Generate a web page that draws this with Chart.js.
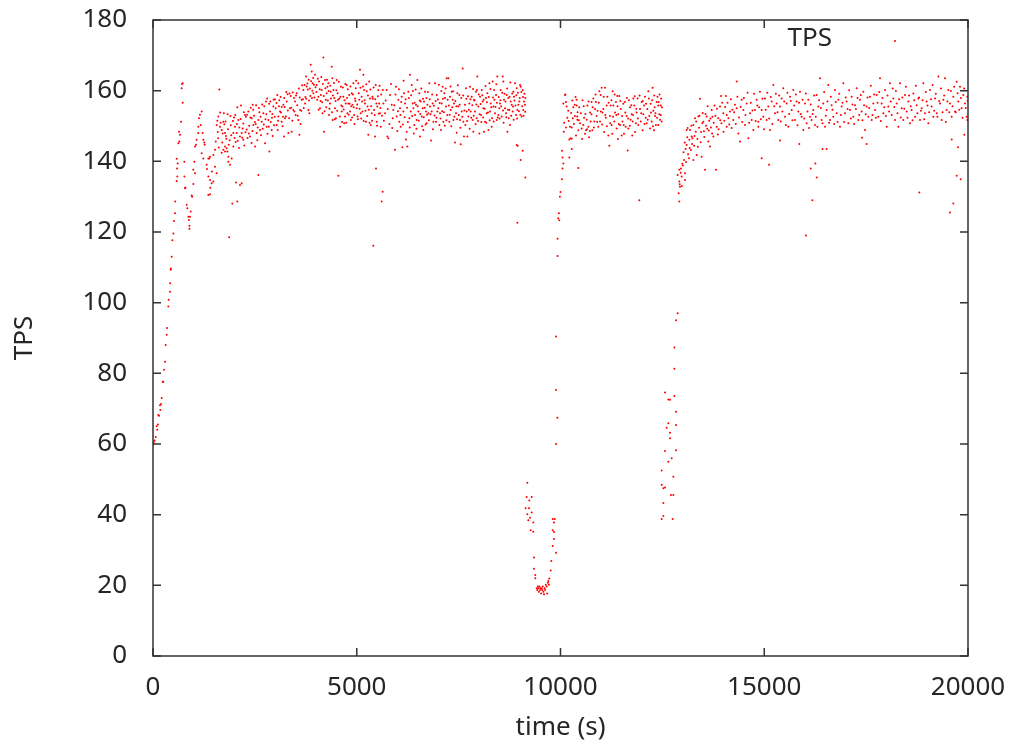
<!DOCTYPE html>
<html>
<head>
<meta charset="utf-8">
<script src="https://cdn.jsdelivr.net/npm/chart.js@4.4.1/dist/chart.umd.min.js"></script>
<style>
  html, body { margin: 0; padding: 0; background: #fff; }
  canvas { display: block; }
</style>
</head>
<body>
<canvas id="tpsChart" width="1016" height="747"></canvas>
<script>
// assi
const xTicks = [0, 5000, 10000, 15000, 20000];
const yTicks = [0, 20, 40, 60, 80, 100, 120, 140, 160, 180];
const seriesLabel = 'TPS';

// punti [tempo (s), TPS], fase per fase
const rampUp = [
  [0,59.7],[20,60.5],[40,61],[66,62],[90,65],[105,64],[120,65.5],[130,68.2],[147,68],[172,71],[180,69.6],[196,71.3],
  [213,73],[238,77.6],[253,77.6],[270,81],[295,83.3],[311,88],[336,90.9],[345,92.8],[376,98.9],[385,100.8],[417,103.1],
  [420,105.5],[433,109.3],[440,109.7],[458,113],[474,117.7],[499,119.6],[515,123.1],[540,125.3],[545,128.6],[581,134.4],
  [597,135.7],[581,140.7],[605,139.4],[590,138],[622,145.1],[646,145.6],[638,148.4],[663,147.5],[687,151.2],[704,160.7],
  [712,161.9],[729,162.1],[729,156.6]
];
const firstDip = [
  [768,139.9],[770,135.7],[785,132.4],[795,132.6],[827,127.7],[843,126.7],[868,124.3],[880,123.4],[893,121.8],[893,120.9],
  [908,124.3],[925,125.8],[949,130.3],[960,130],[990,133.6],[990,137.6],[1031,136.6],[1014,139.9],[1031,144.2],[1055,144.7],
  [1072,146.1],[1112,148],[1112,149.8],[1129,152.2],[1153,153.2],[1195,154.1],[1170,150.3],[1219,148],[1235,146.1],
  [1259,145.3],[1268,144.7],[1195,142.3],[1235,140.8],[1317,139],[1325,137.8],[1358,135.7],[1399,134.7],[1358,130.5],
  [1399,130.7],[1405,132.5],[1440,133.8],[1481,134.3],[1445,137.1],[1399,141.3],[1358,140.8],[1380,140.8],[1481,141.8],
  [1522,143.3],[1522,138.5],[1563,136.6]
];
const climbBand = [
  [1563,150.3],[1579,151.5],[1603,152.7],[1628,160.3],[1644,149.8],[1686,148.9],[1726,151.2],[1767,148],[1767,144.2],
  [1809,143.7],[1826,142.8],[1849,141.3],[1849,139.9],[1890,139],[1767,142.8],[1726,143.3],[1686,142.4],[1870,118.5],
  [1931,140.8],[1947,128.1],[1971,144.2],[1971,148],[2012,149.8],[2037,134],[2069,128.6],[2054,148],[2069,155.3],
  [2094,151.7],[2135,133.3],[2176,133.8],[2135,147],[2176,148],[2218,146.1],[2218,150.7],[2258,153.1],[2299,149],
  [2340,154.1],[2381,147],[2422,152.2],[2447,156],[2463,150.3],[2503,144.2],[2545,148],[2586,136.1],[2586,151.7],
  [2626,148.9],[2667,151.2],[2708,153.6],[2749,145.1],[2773,156.9],[2790,149.8],[2831,151.7],[2856,142.8],[2871,154.1],
  [2913,148.9],[2937,147.2],[2953,155.5],[2994,157.6],[3035,150.3],[3051,158.8],[3076,152.7],[3117,154.1],[3158,151.2],
  [3199,156],[3215,147],[3240,152.2],[3281,156.9],[3321,148],[3362,155],[3404,148.4],[3444,154.5],[3485,156.9],
  [3526,159.3],[3567,151.7],[3592,147.5],[3608,154.5],[3649,157.4],[3690,160.2],[3731,156.4],[3755,164],[3772,161.2],
  [3813,154.5],[3837,153.6],[3870,167.3],[3895,165.4],[3919,162.1],[3936,159.3],
  [1600,146.5],[1650,153.8],[1700,145.3],[1750,150.5],[1790,147.2],[1830,153.3],[1880,146],[1910,150.2],[1990,152.4],
  [2030,145.5],[2110,143.8],[2150,152],[2200,149.3],[2240,144.5],[2280,152.6],[2320,146.6],[2360,150.1],[2400,155.2],
  [2440,148.6],[2480,152.9],[2520,150.6],[2560,146],[2600,155.1],[2640,152.6],[2690,149.2],[2730,155.6],[2760,151.9],
  [2810,147.8],[2850,156.3],[2890,151.1],[2930,153.4],[2970,150.2],[3010,155],[3060,148.9],[3100,157.3],[3140,153.8],
  [3180,149.9],[3220,157.9],[3260,152.7],[3300,159],[3340,152.2],[3380,158.5],[3420,151.5],[3460,157.9],[3500,153.1],
  [3540,155.9],[3580,160.6],[3620,150.6],[3660,161.5],[3700,155.1],[3740,158.2],[3790,162],[3830,157.2],[3850,160.6],
  [3900,157.9],[3950,161.7],
  [1540,145.6],[1590,148.3],[1615,143.9],[1660,150.9],[1710,147.9],[1740,153.6],[1780,151.3],[1800,146.4],[1840,149.1],
  [1860,144.7],[1900,152.8],[1920,147.4],[1960,151.4],[2000,146.6],[2020,153.1],[2060,150.6],[2080,145.8],[2120,149.6],
  [2160,155.8],[2190,146.7],[2230,153.9],[2270,148.2],[2310,153.2],[2350,147.9],[2390,152.4],[2420,145.2],[2460,154.6],
  [2500,151.1],[2530,155.9],[2570,149.6],[2610,153.9],[2650,147.4],[2680,156.1],[2720,150.4],[2780,153.3],[2800,157.8],
  [2840,149.8],[2880,156.9],[2920,152.3],[2960,157.4],[2990,152.6],[3030,156.5],[3070,151.5],[3090,155.6],[3130,158.2],
  [3160,155.4],[3190,152.6],[3230,155.4],[3270,159.6],[3310,154.4],[3350,159.2],[3390,155.2],[3430,159.5],[3470,154.1],
  [3510,158.6],[3550,152.9],[3600,158.1],[3640,154.3],[3680,157.6],[3720,161.6],[3760,157.7],[3800,160.3],[3820,163.1],
  [3860,158.5],[3880,162.7],[3910,160],[3930,163.6],[3960,158.1],[3990,161]
];
const plateauA = [
  [3976,164.5],[4017,161.6],[4058,158.3],[4099,155],[4140,160.2],[4181,169.4],[4197,148.4],[4221,163],[4263,159.3],
  [4303,162.1],[4344,156.4],[4386,166.8],[4410,151.7],[4426,160.2],[4467,155],[4508,163],[4549,135.9],[4574,157.8],
  [4590,149.8],[4631,154.1],[4671,158.3],[4712,152.7],[4753,161.6],[4794,156.4],[4835,154.1],[4876,159.3],[4917,162.1],
  [4958,157.8],[4999,155],[5039,162.1],[5080,165.9],[5096,153.6],[5121,158.3],[5162,164.5],[5203,156.4],[5244,159.8],
  [5284,147.5],[5326,157.8],[5367,153.6],[5406,116.1],[5448,147],[5472,138],[5505,155.5],[5530,160.2],[5571,153.6],
  [5612,128.6],[5636,131.4],
  [4030,157.4],[4075,162.6],[4120,158.8],[4160,153.6],[4240,157.4],[4280,161.1],[4320,153.1],[4360,159.7],[4400,163.5],
  [4450,157.9],[4490,152.2],[4530,159.3],[4610,161.1],[4650,155.5],[4690,150.8],[4730,156.4],[4770,153.6],[4815,158.8],
  [4855,151.7],[4895,156],[4935,153.1],[4975,160.7],[5020,152.7],[5060,157.4],[5140,154.1],[5180,160.2],[5225,151.2],
  [5265,155.5],[5305,162.6],[5345,150.3],[5385,158.3],[5425,154.5],[5465,161.6],[5490,151.2],[5550,156.4],[5590,149.8],
  [4010,159.6],[4045,163.4],[4065,154.6],[4090,160.4],[4110,157.1],[4130,163.9],[4150,156.7],[4170,161.9],[4190,158.5],
  [4210,154.2],[4230,160.7],[4250,155.3],[4270,163.1],[4290,157.2],[4310,159.9],[4330,154.9],[4350,161.4],[4370,157.8],
  [4395,153.9],[4415,158.6],[4440,162.2],[4460,151.9],[4480,157.1],[4500,160.1],[4520,154.3],[4540,157.4],[4560,162.5],
  [4585,152.7],[4600,158.3],[4620,155.8],[4640,151.1],[4660,160.9],[4680,154.7],[4700,157.3],[4720,161.9],[4740,150.9],
  [4760,157.9],[4780,160.4],[4800,153.2],[4825,156.3],[4845,161.2],[4865,155.6],[4885,152.4],[4905,158.9],[4925,155.3],
  [4945,150.6],[4965,157.1],[4985,162.8],[5010,156.1],[5030,151.9],[5050,159.3],[5070,154.9],[5090,160.8],[5110,152.1],
  [5130,156.9],[5150,161.2],[5170,151.4],[5190,157.3],[5215,154.3],[5235,161.8],[5255,152.8],[5275,158.6],[5295,154.6],
  [5315,150.9],[5335,160.3],[5355,155.6],[5375,151.5],[5395,157.7],[5415,160.9],[5440,153.1],[5455,157.6],[5480,156.4],
  [5500,150.1],[5520,158.4],[5540,153.5],[5560,161.4],[5580,155.1],[5600,158.9],[5620,152.9]
];
const plateauB = [
  [5636,160.2],[5653,156.4],[5694,153.6],[5735,160.2],[5751,147],[5776,146.5],[5816,158.8],[5857,156],[5882,152.2],
  [5898,154.5],[5939,143.3],[5964,161.1],[5980,152.7],[6021,157.4],[6045,151.2],[6062,155],[6078,149.8],[6103,158.3],
  [6119,144],[6144,154.1],[6160,159.3],[6185,156.4],[6209,146.2],[6225,148.4],[6242,144.2],[6266,159.7],[6291,152.2],
  [6307,164.5],[6324,154.1],[6348,161.6],[6373,156.4],[6389,155],[6414,150.3],[6430,153.1],[6454,156],[6471,151.7],
  [6487,163],[6512,154.1],[6536,159.3],[6553,147],[6569,156.9],[6594,152.7],[6618,155],[6634,148.9],[6651,156.9],
  [6675,159.7],[6700,154.1],[6716,150.8],[6733,156],[6757,153.6],[6782,162.1],[6798,155.5],[6823,145.9],[6839,154.1],
  [6863,156.4],[6880,151.2],[6921,162.1],[6945,151.2],[6962,158.8],[6978,154.1],[7003,155],[7027,150.3],[7043,153.6],
  [7068,148.9],[7084,156.4],[7109,161.1],[7125,151.2],[7150,159.3],[7166,157.9],[7191,155.5],[7207,163.5],[7223,153.1],
  [7248,163.5],[7272,151.2],[7289,158.3],[7305,154.5],[7330,159.7],[7354,157.4],[7371,151.7],[7387,156.4],[7412,145.3],
  [7436,153.6],[7452,148.1],[7469,159.3],[7493,155.5],[7518,158.8],[7534,151.7],[7551,144.8],[7575,154.1],[7600,166.3],
  [7616,151.2],[7632,147],[7657,156],[7681,160.7],[7698,154.1],[7714,147],[7739,152.7],[7763,156.4],[7780,161.1],
  [7796,154.1],[7821,158.3],[7845,151.7],[7861,148.4],[7878,157.4],[7902,154.1],[7927,159.7],[7943,152.2],[7960,164],
  [7984,155.5],[8009,147.9],[8025,158.3],[8050,153.1],[8066,160.2],[8090,156.9],[8107,155],[8123,148.4],[8148,151.2],
  [8172,157.9],[8189,153.6],[8205,159.3],[8230,148.9],[8254,162.1],[8270,154.1],[8287,156.4],[8311,149.8],[8336,162.6],
  [8352,155.5],[8369,160.2],[8393,153.6],[8418,158.8],[8434,151.7],[8450,164],[8475,153.1],[8499,155],[8516,156.4],
  [8532,160.2],[8557,152.7],[8581,164],[8598,162.6],[8614,157.4],[8639,155],[8663,153.6],[8679,158.8],[8696,148.4],
  [8720,157.9],[8745,154.5],[8761,150.3],[8778,156.9],[8802,156],[8827,154.1],[8843,159.7],[8859,158.3],[8884,162.1],
  [8908,153.1],[8925,160.7],[8941,154.5],[8966,156],[8990,156.9],[9007,161.6],[9023,161.1],[9048,152.7],[9072,160.2],
  [9088,154.5],[9105,156.9],[9129,156],[9138,157.9],
  [5665,151.5],[5710,157.2],[5760,154.8],[5800,150.6],[5840,161.9],[5870,149.4],[5920,155.9],[5950,158.9],[5995,148.6],
  [6010,154.2],[6035,160.4],[6070,153.1],[6090,156.8],[6130,150.4],[6150,162.8],[6175,152.5],[6200,157.6],[6235,155.2],
  [6255,151.1],[6280,157.9],[6300,149.6],[6335,158.7],[6360,152.8],[6380,159.9],[6400,147.9],[6420,156.6],[6445,160.3],
  [6465,149.2],[6495,155.6],[6520,151.5],[6545,157.2],[6560,153.4],[6585,160.6],[6605,149.9],[6625,157.7],[6645,152.5],
  [6665,155.2],[6690,150.4],[6710,157.9],[6725,153.2],[6745,159.6],[6770,151.6],[6790,157.6],[6810,153.3],[6850,158.9],
  [6870,149.1],[6895,155.7],[6910,153],[6935,157.1],[6955,152.3],[6990,157.5],[7015,161.7],[7035,156.5],[7055,152.1],
  [7075,159.9],[7095,154.2],[7115,157.7],[7140,153.9],[7160,150.1],[7180,160.6],[7200,151.6],[7230,157.4],[7260,155.8],
  [7280,153.2],[7300,161.2],[7320,149.9],[7345,155.3],[7365,159.8],[7395,152.6],[7420,157.1],[7445,155.6],[7460,151.9],
  [7480,161.5],[7505,153.1],[7525,156],[7545,149.5],[7565,157.9],[7590,152.6],[7610,158.6],[7640,154.4],[7665,150.3],
  [7690,157.7],[7705,151.4],[7730,158.4],[7750,154.6],[7770,149.2],[7790,157.6],[7810,152.3],[7835,155.9],[7855,160.5],
  [7870,152.9],[7890,157.2],[7915,150.6],[7935,156.1],[7950,160.2],[7975,151.4],[7995,158.9],[8015,153.3],[8040,156.2],
  [8058,151.1],[8080,158.7],[8100,152.4],[8115,157.4],[8140,154.9],[8160,161.3],[8180,150.9],[8195,156.7],[8220,153.8],
  [8240,158.2],[8262,151.6],[8280,160.5],[8300,155.3],[8320,152.2],[8345,158.1],[8360,151.3],[8380,157.4],[8405,155.4],
  [8425,161.8],[8440,156.6],[8460,152.4],[8485,158.2],[8505,152.1],[8525,157.3],[8545,155.6],[8570,159.4],[8590,154.4],
  [8605,150.9],[8625,159.1],[8650,156.9],[8670,152.5],[8690,160.6],[8710,154.6],[8730,152.2],[8750,158.3],[8770,162.3],
  [8790,152.9],[8815,159.2],[8835,155.5],[8850,151.8],[8870,157.2],[8895,155.8],[8915,158.7],[8935,152.1],[8955,159.4],
  [8980,154.2],[9000,157.9],[9015,153.2],[9040,159.6],[9060,155.6],[9080,158.2],[9095,152.9],[9115,159.1],[9135,154]
];
const fallAndDip = [
  [8925,144.6],[8950,144.4],[9023,140.4],[9072,143],[9138,135.4],[8941,122.6],
  [9186,49],[9170,45],[9235,44],[9293,45],[9145,41.8],[9227,41.8],[9186,40.1],[9293,40.6],[9252,39.1],[9210,38.4],
  [9333,37.8],[9268,35.6],[9333,35.2],[9350,27.9],[9350,24.7],[9382,22.9],[9382,22],
  [9416,19.2],[9430,18.7],[9445,19.7],[9457,19.2],[9470,18.2],[9485,19.7],[9498,18.7],[9510,19.2],[9525,17.7],
  [9539,19.2],[9550,18.7],[9565,19.7],[9580,18.2],[9595,17.5],[9610,19.2],[9621,18.7],[9640,20.2],[9661,19.7],
  [9675,17.7],[9690,20.7],[9702,21.2],[9715,20.2],
  [9726,21.9],[9760,24.2],[9775,26.9],[9890,29.2],[9808,31.1],[9841,33.1],[9841,35.1],[9808,35.6],[9841,37.8],
  [9808,38.8],[9857,38.8]
];
const recovery = [
  [9890,60],[9923,67.4],[9890,75.3],[9890,90.4],
  [9928,113.2],[9928,118.1],[9945,123.9],[9970,123.3],[9960,125.3],[9985,130],[10000,131.3],[10037,134.9],[10050,138],
  [10050,141.1],[10037,143],[10070,139.4],[10120,158.9],[10070,156.4],[10150,155.5],[10090,150.9],[10080,148.4],
  [10135,149.6],[10216,146.2],[10250,146.5],[10275,149.6],[10275,143.5],[10216,141.1],[10436,138.1],[10395,157.4],
  [10410,152.7],[10350,156],[10300,152.2]
];
const midBand = [
  [10110,158.8],[10135,156.8],[10167,152.3],[10233,149.8],[10274,146.4],[10315,155.3],[10355,152.8],[10396,155.8],
  [10413,151.8],[10437,148.8],[10478,150.8],[10519,149.3],[10560,150.3],[10601,147.8],[10625,148.8],[10642,151.8],
  [10683,149.8],[10724,153.8],[10764,156.8],[10805,157.8],[10846,154.8],[10887,152.8],[10928,149.8],[10953,159.8],
  [10985,158.8],[11010,160.8],[11051,154.8],[11092,160.8],[11133,155.8],[11173,147.3],[11198,144.4],[11214,152.8],
  [11255,150.3],[11280,159.8],[11296,155.8],[11337,153.8],[11378,149.3],[11394,158.5],[11419,153.3],[11443,158.5],
  [11460,150.3],[11501,147.3],[11542,156.3],[11558,147.8],[11582,156.8],[11623,152.8],[11648,143.1],[11664,149.3],
  [11705,155.3],[11746,153.3],[11771,151.3],[11787,157.8],[11828,148.3],[11869,153.8],[11910,150.3],[11934,129],
  [11951,154.8],[11991,156.8],[12016,148.8],[12032,153.3],[12073,158.3],[12114,150.8],[12155,159.8],[12179,152.8],
  [12212,156.3],[12237,151.3],[12261,160.8],[12278,154.3],[12294,148.8],[12319,152.8],[12360,156.8],[12400,150.3],
  [12425,153.3],[12441,151.8],[12458,155.8],[12482,151.3],
  [10190,154.3],[10290,157.2],[10380,147.3],[10460,155.3],[10540,157.3],[10580,152.3],[10660,155.8],[10700,146.8],
  [10740,151.3],[10780,148.8],[10830,151.3],[10870,156.8],[10910,154.3],[10970,151.3],[11030,153.8],[11070,148.3],
  [11110,152.3],[11150,158.3],[11230,155.8],[11270,147.8],[11320,151.3],[11360,156.8],[11410,146.3],[11480,154.8],
  [11520,151.3],[11600,149.8],[11680,157.3],[11720,151.8],[11760,147.3],[11810,155.8],[11850,150.8],[11890,157.8],
  [11970,151.3],[12050,155.8],[12090,152.3],[12130,154.8],[12200,149.3],[12250,157.3],[12310,155.3],[12340,150.3],
  [12380,158.3],[12410,156.8],[12470,157.8],
  [10200,151.4],[10260,153.7],[10330,150.6],[10370,158.2],[10420,153.9],[10450,151.6],[10500,153.6],[10530,146.3],
  [10570,155.6],[10610,153.4],[10650,149.1],[10690,156.9],[10720,148.6],[10760,153.3],[10790,155.3],[10820,149.6],
  [10860,158.9],[10900,151.1],[10940,156.6],[10990,154.1],[11020,150.4],[11060,158.3],[11100,153.1],[11140,149.9],
  [11180,156.6],[11220,150.8],[11250,157.3],[11290,152.6],[11330,158.9],[11370,153.1],[11400,155.6],[11430,150.6],
  [11470,157.1],[11510,152.8],[11550,150.3],[11590,153.8],[11630,157.9],[11660,152.1],[11700,150.1],[11740,155.9],
  [11780,153.1],[11820,158.4],[11860,154.9],[11900,152.1],[11940,158.6],[11980,153.6],[12020,157.1],[12060,150.6],
  [12100,156.3],[12140,151.8],[12170,157.8],[12220,153.8],[12270,149.9],[12300,158.6],[12330,153.6],[12370,152.3],
  [12400,155.8],[12430,158.9],[12460,153.1],[12490,155.3]
];
const secondDip = [
  [12876,97],[12835,95],[12793,87.3],[12793,81.3],[12565,74.6],[12646,72.6],[12687,72.5],[12793,73.6],[12835,69.1],
  [12835,65.4],[12646,65.9],[12605,64.6],[12687,63.2],[12687,61.6],[12565,58],[12835,58.2],[12728,56],[12646,55],
  [12483,52.5],[12769,50.7],[12483,48.5],[12524,47.5],[12565,47.7],[12711,45.6],[12769,45.6],[12524,43.3],[12524,39.6],
  [12483,38.8],[12752,38.8]
];
const secondRise = [
  [12916,128.6],[12933,132.8],[12916,134.3],[12974,135.7],[12875,136.1],[13055,134.7],[12916,137.6],[12957,138],
  [13055,136.6],[12990,139.3],[13031,140.4],[13153,140.9],[13260,140.4],[13342,141.8],[13464,141.3],[13546,137.6],
  [13816,137.6],[13096,144.6],[13162,146.1],[13219,147],[13096,148.9],[13178,148.9],[13260,150.3],[13301,152.2],
  [13383,152.7],[13424,157.7],[13505,151.2],[13587,152.7],[13628,145.6],[13669,144.2],[13710,154.5],[13751,147],
  [13833,149.8],[13873,152.2],[13914,155.5],[13939,158.5],[13996,153.6],[14061,158.5],[14078,149.8],[14119,152.2],
  [14160,154.1],[14241,151.7],[14282,156],[14323,162.6],[14323,155],[14364,147.9],[14405,145.6],[14446,157.4],
  [14487,154.5],[14528,150.3],[14569,156.4],[14610,146.5],[14651,153.6],[14692,151.7],[14732,148.9],[14773,154.5],
  [14814,157.4],[14855,151.2],
  [12900,131],[12925,133.5],[12950,136.8],[12980,133],[13000,138.8],[13020,142.6],[13070,143.5],[13110,146.8],
  [13130,142],[13200,143.2],[13240,146.5],[13280,144.4],[13320,148.4],[13360,146.3],[13400,149.5],[13440,145.4],
  [13480,150.8],[13520,148.5],[13560,153.4],[13600,149.2],[13650,151.5],[13690,149.6],[13730,152.6],[13780,155.8],
  [13860,147.6],[13950,150.8],[14020,151.5],[14100,156.6],[14200,149.4],[14260,153.9],
  [13050,145.3],[13080,139.8],[13120,149.4],[13170,143.8],[13210,150.1],[13230,144.9],[13290,147.2],[13330,151.3],
  [13370,144.1],[13410,152.9],[13450,148.3],[13490,153.7],[13530,146.9],[13570,150.1],[13610,155.6],[13640,148.7],
  [13680,152.1],[13720,147.9],[13760,150.9],[13800,152.9],[13840,154.9],[13880,149.1],[13920,151.6],[13970,156.6],
  [14000,148.4],[14040,155.4],[14080,153.1],[14140,150.4],[14180,157.6],[14220,154.6],[14300,150.6],[14340,158.3],
  [14380,152.4],[14420,155.4],[14460,151.1],[14500,157.9],[14540,153.1],[14590,159.4],[14630,150.9],[14670,156.6],
  [14710,154.4],[14750,159.1],[14790,151.4],[14830,155.8]
];
const finalBand = [
  [14855,149.8],[14895,159.7],[14936,154.5],[14977,152.6],[15018,157.8],[15059,151.7],[15100,155.5],[15141,148.9],
  [15182,156.9],[15223,161.6],[15264,153.6],[15304,156.4],[15345,151.7],[15386,155.5],[15427,157.8],[15468,160.7],
  [15509,152.6],[15550,156.4],[15591,149.8],[15632,158.3],[15673,154.5],[15713,160.2],[15754,151.7],[15795,156.9],
  [15836,154.1],[15877,159.7],[15918,152.6],[15959,148.9],[16000,156.4],[16041,150.8],[16082,157.4],[16122,152.6],
  [16163,151.7],[16204,154.5],[16245,150.3],[16286,158.8],[16327,155.5],[16368,163.5],[16409,151.7],[16450,156.4],
  [16491,149.8],[16531,154.5],[16572,161.6],[16613,151.7],[16654,155.9],[16695,152.6],[16736,160.2],[16777,153.6],
  [16818,157.4],[16859,149.8],[16900,155.5],[16940,162.1],[16981,153.6],[17022,156.9],[17063,150.8],[17104,154.5],
  [17145,158.3],[17186,152.6],[17227,155.9],[17268,160.7],[17309,151.7],[17349,157.4],[17390,154.1],[17431,159.7],
  [17472,148.9],[17513,155.5],[17554,152.6],[17595,158.3],[17636,151.7],[17677,156.4],[17718,154.5],[17758,158.8],
  [17799,152.6],[17840,163.5],[17881,156.4],[17922,153.6],[17963,160.2],[18004,149.8],[18045,155.5],[18086,162.1],
  [18127,153.1],[18167,157.8],[18208,151.7],[18249,156.4],[18290,149.8],[18331,162.1],[18372,155],[18413,151.7],
  [18454,158.8],[18495,154.1],[18536,156.9],[18576,150.8],[18617,154.5],[18658,159.2],[18699,152.6],[18740,155.9],
  [18781,157.8],[18822,151.7],[18863,155],[18904,162.1],[18945,153.6],[18985,156.9],[19026,150.8],[19067,160.2],
  [19108,155.5],[19149,152.6],[19190,157.8],[19231,153.6],[19272,164],[19313,156.4],[19354,151.7],[19394,157.4],
  [19435,163.5],[19476,154.5],[19517,160.2],[19558,156.4],[19599,152.6],[19640,158.3],[19681,154.1],[19722,162.5],
  [19763,156.9],[19803,161.1],[19844,155],[19885,158.8],[19926,156.4],[19967,152.6],
  [14875,155.3],[14915,151.9],[14955,157.7],[14995,149.1],[15035,154.6],[15075,159.4],[15120,152.1],[15160,158.2],
  [15200,150.6],[15245,155.6],[15285,159.1],[15325,153.9],[15365,158.6],[15405,151.3],[15445,154.1],[15490,156.9],
  [15530,150.3],[15570,159.4],[15610,153.4],[15650,157.1],[15690,151.6],[15735,155.8],[15775,158.9],[15815,150.2],
  [15855,156.6],[15895,153.4],[15940,157.4],[15980,152.1],[16020,159.2],[16060,154.1],[16100,149.4],[16140,156.1],
  [16185,153.4],[16225,158.6],[16265,152.6],[16305,149.8],[16345,157.3],[16390,155.1],[16430,150.8],[16470,159.6],
  [16510,152.9],[16550,156.9],[16590,150.9],[16635,158.3],[16675,154.6],[16715,150.6],[16755,156.8],[16800,151.1],
  [16840,159.1],[16880,153.1],[16920,156.6],[16960,151.1],[17000,158.1],[17045,154.8],[17085,160.1],[17125,152.1],
  [17165,156.1],[17205,150.6],[17250,154.8],[17290,157.9],[17330,153.1],[17370,158.8],[17410,151.6],[17450,155.9],
  [17490,153.3],[17535,158.1],[17575,155.1],[17615,161.4],[17655,153.1],[17695,158.9],[17740,152.3],[17780,156.6],
  [17820,159.6],[17860,151.4],[17900,157.9],[17945,155.3],[17985,152.8],[18025,158.6],[18065,154.1],[18105,156.9],
  [18150,160.6],[18190,155.4],[18230,159.9],[18270,153.6],[18310,157.6],[18350,152.4],[18390,158.1],[18435,154.9],
  [18475,161.1],[18515,152.3],[18555,158.6],[18595,155.6],[18640,151.6],[18680,157.3],[18720,161.4],[18760,153.6],
  [18800,158.1],[18845,154.3],[18885,157.3],[18925,151.9],[18965,159.6],[19005,155.8],[19045,153.9],[19090,157.6],
  [19130,161.6],[19170,154.3],[19210,159.1],[19250,152.6],[19295,157.1],[19335,160.6],[19375,153.9],[19415,158.6],
  [19455,151.1],[19495,156.9],[19540,153.9],[19580,159.9],[19620,155.6],[19660,161.1],[19700,153.9],[19745,159.3],
  [19785,154.6],[19825,157.9],[19865,152.3],[19905,160.6],[19945,155.1],[19990,157.1]
];
const finalOutliers = [
  [14937,140.9],[15116,139],[15387,145.9],[15860,144.9],[16025,119],[16140,138],[16254,139.4],[16287,135.4],
  [16180,129],[16430,143.5],[16530,143.5],[17514,144.9],[17400,146.7],[18806,131.2],[19559,125.5],[19640,128.1],
  [19722,135.9],[19821,134.9],[19755,144],[19600,146.2],[19910,147.5],[19984,151.7],[19984,158.3]
];

const allPoints = [
  ...rampUp, ...firstDip, ...climbBand, ...plateauA, ...plateauB, ...fallAndDip,
  ...recovery, ...midBand, ...secondDip, ...secondRise, ...finalBand, ...finalOutliers
].map(([t, v]) => ({ x: t, y: v }));

const FONT = 'Noto Sans';
const TEXT = '#262626';
const FRAME = '#333';
const RED = '#ff0000';

// bordo, tacche interne (stile gnuplot) e legenda
const gnuplotFrame = {
    id: 'gnuplotFrame',
    afterDatasetsDraw(chart) {
        const { ctx, chartArea: a, scales: { x, y } } = chart;
        const tick = 8;
        ctx.save();
        ctx.strokeStyle = FRAME;
        ctx.lineWidth = 1.5;
        ctx.strokeRect(a.left, a.top, a.width, a.height);
        ctx.beginPath();
        x.ticks.forEach(t => {
            const px = x.getPixelForValue(t.value);
            ctx.moveTo(px, a.bottom); ctx.lineTo(px, a.bottom - tick);
            ctx.moveTo(px, a.top); ctx.lineTo(px, a.top + tick);
        });
        y.ticks.forEach(t => {
            const py = y.getPixelForValue(t.value);
            ctx.moveTo(a.left, py); ctx.lineTo(a.left + tick, py);
            ctx.moveTo(a.right, py); ctx.lineTo(a.right - tick, py);
        });
        ctx.stroke();

        ctx.font = `26px "${FONT}"`;
        ctx.fillStyle = TEXT;
        ctx.textAlign = 'right';
        ctx.textBaseline = 'middle';
        ctx.fillText(chart.data.datasets[0].label, a.right - 136, a.top + 19);
        ctx.fillStyle = RED;
        ctx.beginPath();
        ctx.arc(a.right - 73, a.top + 21, 1, 0, Math.PI * 2);
        ctx.fill();
        ctx.restore();
    }
};

new Chart(document.getElementById('tpsChart'), {
    type: 'scatter',
    data: {
        datasets: [{
            label: seriesLabel,
            data: allPoints,
            pointRadius: 1,
            pointBorderWidth: 0,
            backgroundColor: RED,
            borderColor: RED
        }]
    },
    options: {
        responsive: false,
        animation: false,
        devicePixelRatio: 1,
        layout: { padding: { left: 0, top: 20, right: 48, bottom: 0 } },
        plugins: { legend: { display: false }, tooltip: { enabled: false } },
        scales: {
            x: {
                type: 'linear',
                min: xTicks[0],
                max: xTicks[xTicks.length - 1],
                afterBuildTicks: s => { s.ticks = xTicks.map(v => ({ value: v })); },
                afterFit: s => { s.height = 91; s.paddingLeft = 0; s.paddingRight = 0; },
                grid: { display: false, drawTicks: false },
                border: { display: false },
                ticks: { color: TEXT, font: { family: FONT, size: 26 }, padding: 16, callback: v => String(v) },
                title: { display: true, text: 'time (s)', color: TEXT, font: { family: FONT, size: 26 }, padding: { bottom: 4 } }
            },
            y: {
                type: 'linear',
                min: yTicks[0],
                max: yTicks[yTicks.length - 1],
                afterBuildTicks: s => { s.ticks = yTicks.map(v => ({ value: v })); },
                afterFit: s => { s.width = 153; s.paddingTop = 0; s.paddingBottom = 0; },
                grid: { display: false, drawTicks: false },
                border: { display: false },
                ticks: { color: TEXT, font: { family: FONT, size: 26 }, padding: 26, callback: v => String(v) },
                title: { display: true, text: 'TPS', color: TEXT, font: { family: FONT, size: 26 }, padding: { top: 9 } }
            }
        }
    },
    plugins: [gnuplotFrame]
});
</script>
</body>
</html>
